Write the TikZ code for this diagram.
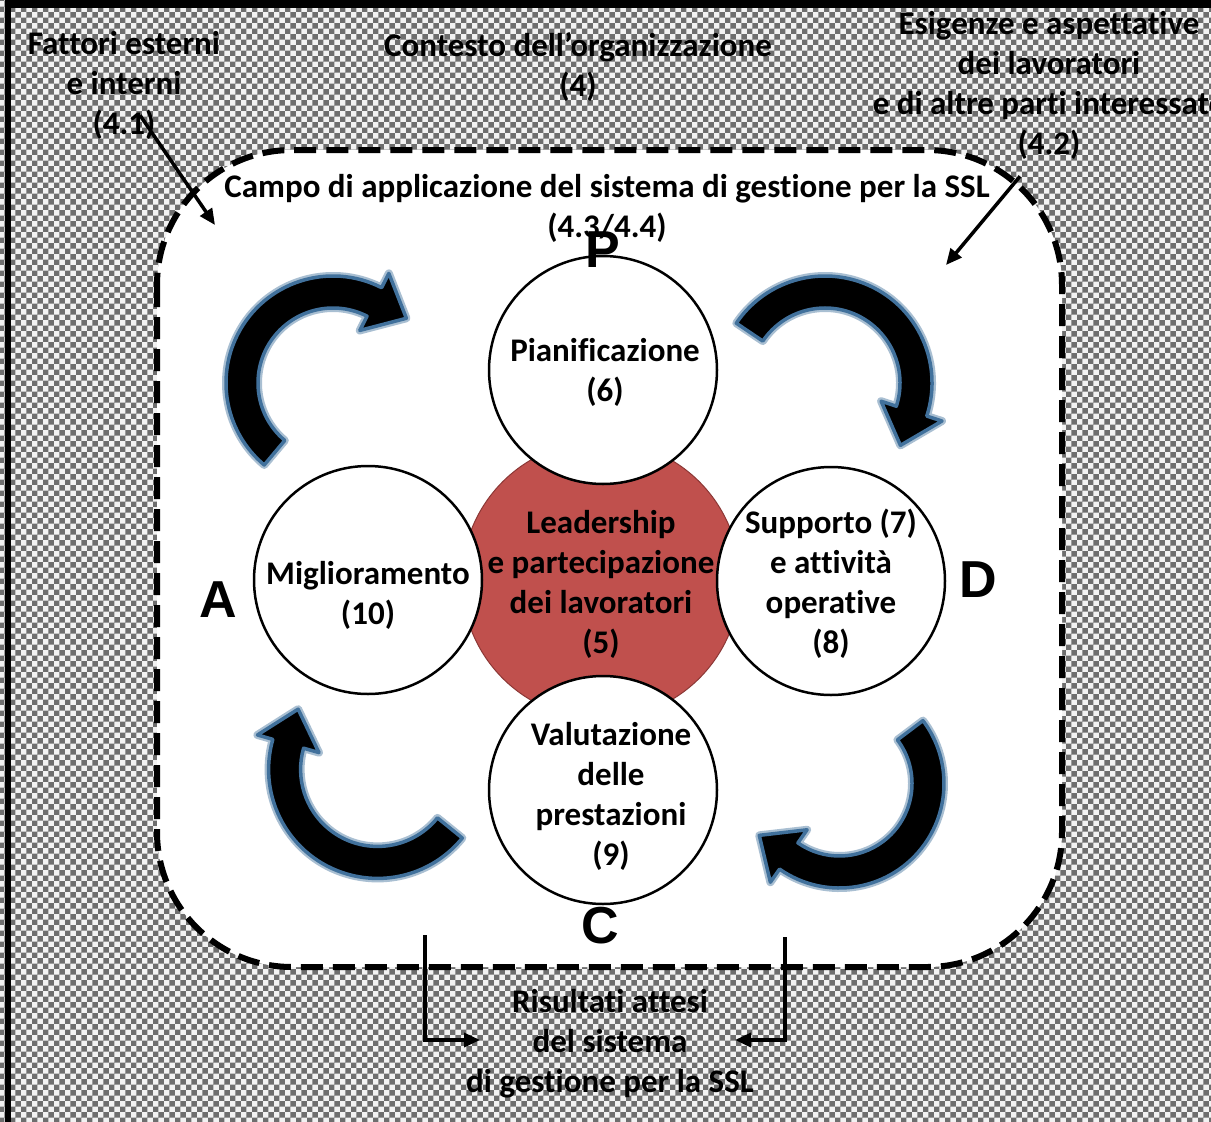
\documentclass[tikz,border=0pt]{standalone}
\usepackage{fontspec}
\setmainfont{Carlito}[Ligatures=NoCommon]
\newfontfamily\phasefont{Liberation Sans}
\usetikzlibrary{arrows.meta, calc, patterns, positioning}
\definecolor{sslRed}{HTML}{C0504D}
\definecolor{sslRedEdge}{HTML}{8C3836}
\definecolor{sslGlow}{HTML}{41719C}
\definecolor{sslBack}{HTML}{F2F2F2}
\definecolor{sslDots}{HTML}{6E6E6E}
\newcommand\sslfont{\fontsize{33}{40}\selectfont\bfseries}
\tikzset{
  backdrop/.style   = {fill=sslBack},
  scopeline/.style  = {draw=black, fill=white, line width=6pt,
                       dash pattern=on 22pt off 10pt, rounded corners=135pt},
  stage/.style      = {circle, draw=black, line width=2.5pt, fill=white,
                       minimum size=228, inner sep=0pt},
  core/.style       = {circle, draw=sslRedEdge, line width=1pt, fill=sslRed,
                       minimum size=278, inner sep=0pt},
  stagetext/.style  = {font=\sslfont, align=center, inner sep=2pt},
  note/.style       = {font=\sslfont, align=center, inner sep=3pt},
  phase/.style      = {font=\phasefont\bfseries\fontsize{52}{60}\selectfont, inner sep=0pt},
  feedarrow/.style  = {-{Triangle[length=16pt, width=14pt]}, line width=3.5pt, black},
  cyclearrow/.style = {fill=black, draw=sslGlow, line width=3.5pt, line join=round,
                       preaction={draw=sslGlow!45, line width=8pt, line join=round}},
}
% thick curved arrow of the PDCA cycle: centre x, centre y, radius, start, end
\newcommand\cyclearc[5]{%
  \pgfmathsetmacro\arcin{#3-16}%
  \pgfmathsetmacro\arcout{#3+16}%
  \pgfmathsetmacro\headin{#3-32}%
  \pgfmathsetmacro\headout{#3+32}%
  \path[cyclearrow] ($(#1,#2)+(#4:\arcin)$)
    arc[start angle=#4, end angle=#5, radius=\arcin]
    -- ($(#1,#2)+(#5:\headin)$)
    -- ($(#1,#2)+(#5:#3)+({#5+90}:36)$)
    -- ($(#1,#2)+(#5:\headout)$)
    -- ($(#1,#2)+(#5:\arcout)$)
    arc[start angle=#5, end angle=#4, radius=\arcout] -- cycle;}

\begin{document}
\begin{tikzpicture}[x=1pt,y=-1pt]
  \useasboundingbox (0,0) rectangle (1211,1122);
  % backdrop and frame
  \fill[backdrop] (0,0) rectangle (1211,1122);
  \fill[pattern=checkerboard, pattern color=sslDots] (0,0) rectangle (1211,1122);
  \fill[black] (5,0) rectangle (1211,8);
  \fill[black] (5,0) rectangle (11,1122);
  % scope of the system
  \draw[scopeline] (157,150) rectangle (1062,967);

  % outside texts
  \node[note] (fattori)   at (124,85)   {Fattori esterni\\e interni\\(4.1)};
  \node[note] (contesto)  at (578,67)   {Contesto dell’organizzazione\\(4)};
  \node[note] (esigenze)  at (1049,85)  {Esigenze e aspettative\\dei lavoratori\\e di altre parti interessate\\(4.2)};
  \node[note] (campo)     at (607,208)  {Campo di applicazione del sistema di gestione per la SSL\\(4.3/4.4)};
  \node[note] (risultati) at (610,1044) {Risultati attesi\\del sistema\\di gestione per la SSL};

  % inputs and outputs
  \coordinate (fattoriIn)  at (215,225);
  \coordinate (esigenzeIn) at (946,265);
  \coordinate (outL)    at (425,935);
  \coordinate (outLtip) at (480,1040);
  \coordinate (outR)    at (785,937);
  \coordinate (outRtip) at (735,1040);
  \draw[feedarrow] ([shift={(16,-27)}]fattori.south) -- (fattoriIn);
  \draw[feedarrow] ([shift={(-29,14)}]esigenze.south) -- (esigenzeIn);
  \draw[feedarrow] (outL) |- (outLtip);
  \draw[feedarrow] (outR) |- (outRtip);

  % centre and the four stages
  \node[core]  (lead)  at (601,580) {};
  \node[stage] (plan)  at (603,370) {};
  \node[stage] (do)    at (831,581) {};
  \node[stage] (check) at (603,790) {};
  \node[stage] (act)   at (368,580) {};
  \node[stagetext] (leadText)  at (601,584) {Leadership\\e partecipazione\\dei lavoratori\\(5)};
  \node[stagetext] (planText)  at (605,372) {Pianificazione\\(6)};
  \node[stagetext] (doText)    at (831,584) {Supporto (7)\\e attività\\operative\\(8)};
  \node[stagetext] (checkText) at (611,796) {Valutazione\\delle\\prestazioni\\(9)};
  \node[stagetext] (actText)   at (368,595) {Miglioramento\\(10)};

  % PDCA letters
  \node[phase] (pLetter) at (603,250) {P};
  \node[phase] (dLetter) at (978,580) {D};
  \node[phase] (cLetter) at (600,926) {C};
  \node[phase] (aLetter) at (218,600) {A};

  % cycle arrows
  \cyclearc{333}{383}{91}{130}{297}
  \cyclearc{825}{383}{91}{214}{378}
  \cyclearc{839.5}{783.5}{88.5}{-37}{125}
  \cyclearc{377.6}{769.4}{93}{39}{196}
\end{tikzpicture}
\end{document}
